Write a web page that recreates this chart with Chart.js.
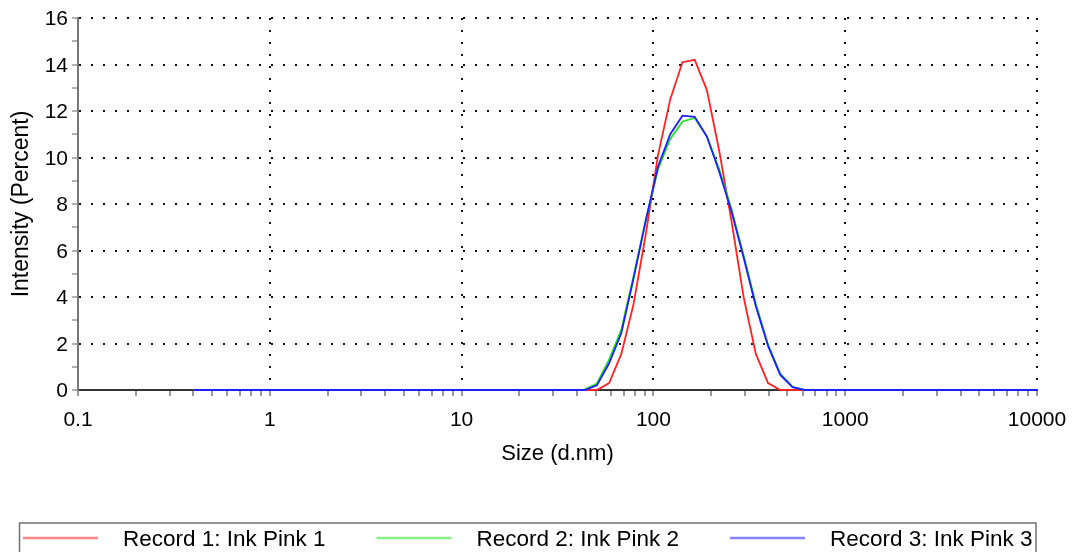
<!DOCTYPE html>
<html>
<head>
<meta charset="utf-8">
<title>Size distribution by intensity</title>
<script src="https://cdn.jsdelivr.net/npm/chart.js@4.4.1/dist/chart.umd.min.js"></script>
<style>
  html, body { margin: 0; padding: 0; background: #ffffff; }
  #wrap { width: 1072px; height: 552px; }
</style>
</head>
<body>
<div id="wrap"><canvas id="sizeChart" width="1072" height="552"></canvas></div>
<script>
// bin centres (d.nm), 70 log-spaced classes
const sizes = [
	0.4, 0.4632, 0.5365, 0.6213, 0.7195, 0.8332, 0.9649, 1.117, 1.294, 1.499,
	1.736, 2.01, 2.328, 2.696, 3.122, 3.615, 4.187, 4.849, 5.615, 6.503,
	7.531, 8.721, 10.1, 11.7, 13.54, 15.69, 18.17, 21.04, 24.36, 28.21,
	32.67, 37.84, 43.82, 50.75, 58.77, 68.06, 78.82, 91.28, 105.7, 122.4,
	141.8, 164.2, 190.1, 220.2, 255.0, 295.3, 342.0, 396.1, 458.7, 531.2,
	615.1, 712.4, 825.0, 955.4, 1106, 1281, 1484, 1718, 1990, 2305,
	2669, 3091, 3580, 4145, 4801, 5560, 6439, 7456, 8635, 10000
];

const record1 = [
	0, 0, 0, 0, 0, 0, 0, 0, 0, 0,
	0, 0, 0, 0, 0, 0, 0, 0, 0, 0,
	0, 0, 0, 0, 0, 0, 0, 0, 0, 0,
	0, 0, 0, 0, 0.3, 1.55, 3.7, 6.7, 10.1, 12.5,
	14.1, 14.2, 12.9, 10.3, 7.3, 4.0, 1.55, 0.3, 0, 0,
	0, 0, 0, 0, 0, 0, 0, 0, 0, 0,
	0, 0, 0, 0, 0, 0, 0, 0, 0, 0
];

const record2 = [
	0, 0, 0, 0, 0, 0, 0, 0, 0, 0,
	0, 0, 0, 0, 0, 0, 0, 0, 0, 0,
	0, 0, 0, 0, 0, 0, 0, 0, 0, 0,
	0, 0, 0.02, 0.28, 1.3, 2.6, 4.9, 7.3, 9.5, 10.8,
	11.55, 11.7, 10.9, 9.5, 7.8, 5.8, 3.7, 1.95, 0.7, 0.13,
	0, 0, 0, 0, 0, 0, 0, 0, 0, 0,
	0, 0, 0, 0, 0, 0, 0, 0, 0, 0
];

const record3 = [
	0, 0, 0, 0, 0, 0, 0, 0, 0, 0,
	0, 0, 0, 0, 0, 0, 0, 0, 0, 0,
	0, 0, 0, 0, 0, 0, 0, 0, 0, 0,
	0, 0, 0, 0.2, 1.15, 2.45, 4.8, 7.3, 9.6, 11.0,
	11.8, 11.75, 10.9, 9.4, 7.7, 5.7, 3.6, 1.9, 0.65, 0.12,
	0, 0, 0, 0, 0, 0, 0, 0, 0, 0,
	0, 0, 0, 0, 0, 0, 0, 0, 0, 0
];

const seriesLabels = ['Record 1: Ink Pink 1', 'Record 2: Ink Pink 2', 'Record 3: Ink Pink 3'];
const seriesColors = ['rgb(255,35,35)', 'rgb(35,225,35)', 'rgb(30,30,255)'];

const xMajorTicks = [0.1, 1, 10, 100, 1000, 10000];
const yMajorTicks = [0, 2, 4, 6, 8, 10, 12, 14, 16];

const fontFamily = "'Liberation Sans', Arial, Helvetica, sans-serif";
const clear = 'rgba(0,0,0,0)';

// decade ticks plus the 2..9 minors between them
const logTicks = () => {
	const out = [];
	xMajorTicks.forEach((d, i) => {
		out.push(d);
		if (i < xMajorTicks.length - 1) {
			for (let m = 2; m <= 9; m++) out.push(d * m);
		}
	});
	return out;
};

const toPoints = (arr) => arr.map((v, i) => ({ x: sizes[i], y: v }));

// legend drawn as the boxed strip under the plot
const legendStrip = {
	id: 'legendStrip',
	afterDraw(chart) {
		const { ctx } = chart;
		ctx.save();
		ctx.strokeStyle = '#707070';
		ctx.lineWidth = 1.5;
		ctx.strokeRect(19.5, 523, 1016.5, 40);
		chart.data.datasets.forEach((ds, i) => {
			const x0 = 23 + i * 353.5;
			ctx.globalAlpha = 0.55;
			ctx.strokeStyle = ds.borderColor;
			ctx.lineWidth = 2.5;
			ctx.beginPath();
			ctx.moveTo(x0, 538);
			ctx.lineTo(x0 + 75, 538);
			ctx.stroke();
			ctx.globalAlpha = 1;
			ctx.fillStyle = '#000';
			ctx.font = `22.5px ${fontFamily}`;
			ctx.textBaseline = 'middle';
			ctx.textAlign = 'left';
			ctx.fillText(ds.label, x0 + 100, 540);
		});
		ctx.restore();
	},
};

const datasets = [record1, record2, record3].map((arr, i) => ({
	label: seriesLabels[i],
	data: toPoints(arr),
	borderColor: seriesColors[i],
	backgroundColor: seriesColors[i],
	borderWidth: 1.8,
	pointRadius: 0,
	tension: 0,
	fill: false,
	clip: 4,
	order: 2 - i, // blue ends up on top
}));

new Chart(document.getElementById('sizeChart'), {
	type: 'line',
	data: { datasets },
	plugins: [legendStrip],
	options: {
		responsive: false,
		animation: false,
		events: [],
		layout: { padding: { top: 18, right: 35, bottom: 82, left: 0 } },
		plugins: {
			legend: { display: false },
			tooltip: { enabled: false },
		},
		scales: {
			x: {
				type: 'logarithmic',
				min: 0.1,
				max: 10000,
				afterBuildTicks: (scale) => { scale.ticks = logTicks().map((v) => ({ value: v })); },
				afterFit: (scale) => {
					scale.height = 80;
					scale.paddingLeft = 0;
					scale.paddingRight = 0;
				},
				ticks: {
					autoSkip: false,
					maxRotation: 0,
					padding: 12,
					color: '#000',
					font: { size: 21, family: fontFamily },
					callback: (v) => (xMajorTicks.includes(v) ? String(v) : ''),
				},
				grid: {
					color: (c) => (xMajorTicks.includes(c.tick?.value) && c.tick.value !== 0.1 ? '#111' : clear),
					lineWidth: 2,
					tickColor: '#333',
					tickLength: 6,
					tickWidth: 1,
				},
				border: { color: '#333', width: 2, dash: [2, 10] },
				title: {
					display: true,
					text: 'Size (d.nm)',
					color: '#000',
					font: { size: 22, family: fontFamily },
					padding: { top: 0, bottom: 3 },
				},
			},
			y: {
				min: 0,
				max: 16,
				afterBuildTicks: (scale) => {
					const t = [];
					for (let v = 0; v <= 16; v++) t.push({ value: v });
					scale.ticks = t;
				},
				afterFit: (scale) => { scale.width = 78; },
				ticks: {
					autoSkip: false,
					padding: 4,
					labelOffset: 1.5,
					color: '#000',
					font: { size: 21, family: fontFamily },
					callback: (v) => (yMajorTicks.includes(v) ? String(v) : ''),
				},
				grid: {
					color: (c) => (yMajorTicks.includes(c.tick?.value) && c.tick.value !== 0 ? '#111' : clear),
					lineWidth: 2,
					tickColor: '#666',
					tickLength: 6,
					tickWidth: 1,
				},
				border: { color: '#777', width: 2, dash: [2, 10] },
				title: {
					display: true,
					text: 'Intensity (Percent)',
					color: '#000',
					font: { size: 23, family: fontFamily },
					padding: { top: 8, bottom: 0 },
				},
			},
		},
	},
});
</script>
</body>
</html>
